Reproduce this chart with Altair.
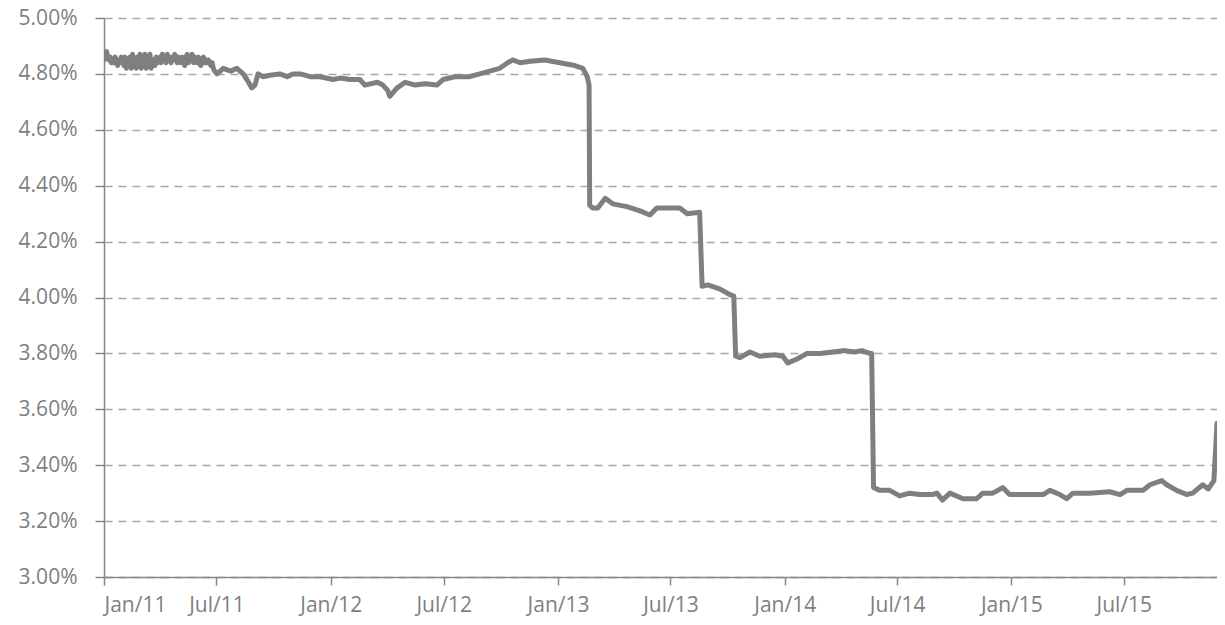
import altair as alt
import pandas as pd

# Jan-Jun 2011: noisy segment, one reading every two days starting 2011-01-01
early_start = "2011-01-01"
early_rates = [
    4.85, 4.87, 4.88, 4.86, 4.85, 4.86, 4.84, 4.85, 4.84, 4.86, 4.84, 4.83, 4.85, 4.84, 4.86, 4.85,
    4.83, 4.86, 4.82, 4.85, 4.84, 4.86, 4.82, 4.87, 4.83, 4.85, 4.82, 4.86, 4.84, 4.87,
    4.82, 4.86, 4.83, 4.87, 4.82, 4.85, 4.84, 4.87, 4.82, 4.84, 4.85, 4.83, 4.86, 4.84, 4.85, 4.86,
    4.84, 4.87, 4.85, 4.86, 4.84, 4.87, 4.85, 4.86, 4.84, 4.86, 4.85, 4.87, 4.85, 4.84, 4.86,
    4.85, 4.84, 4.86, 4.85, 4.83, 4.86, 4.87, 4.84, 4.86, 4.85, 4.87, 4.84, 4.86, 4.85, 4.84,
    4.86, 4.84, 4.83, 4.85, 4.86, 4.84, 4.85, 4.84, 4.85, 4.84, 4.83, 4.84, 4.82, 4.81,
]

dates = [
    "2011-07-02", "2011-07-12", "2011-07-24",
    "2011-08-03", "2011-08-13", "2011-08-19", "2011-08-27", "2011-09-01", "2011-09-06",
    "2011-09-14", "2011-09-25", "2011-10-11", "2011-10-23", "2011-11-01", "2011-11-13",
    "2011-11-29", "2011-12-15", "2012-01-05", "2012-01-16", "2012-02-01", "2012-02-17",
    "2012-02-25", "2012-03-16", "2012-03-25", "2012-04-02", "2012-04-05", "2012-04-17",
    "2012-04-30", "2012-05-16", "2012-06-01", "2012-06-20", "2012-06-30", "2012-07-19",
    "2012-08-12", "2012-08-28", "2012-09-13", "2012-09-29", "2012-10-12", "2012-10-20",
    "2012-11-01", "2012-11-17", "2012-12-11", "2013-01-04", "2013-01-28", "2013-02-10",
    "2013-02-17", "2013-02-20", "2013-02-21", "2013-02-26", "2013-03-06", "2013-03-18",
    "2013-03-30", "2013-04-22", "2013-05-13", "2013-05-29", "2013-06-09", "2013-06-27",
    "2013-07-16", "2013-07-28", "2013-08-17", "2013-08-21", "2013-08-30", "2013-09-19",
    "2013-10-05", "2013-10-11", "2013-10-14", "2013-10-21", "2013-11-06", "2013-11-22",
    "2013-12-16", "2013-12-29", "2014-01-06", "2014-01-21", "2014-02-06", "2014-02-27",
    "2014-03-20", "2014-04-08", "2014-04-24", "2014-05-05", "2014-05-18", "2014-05-21",
    "2014-05-24", "2014-06-03", "2014-06-19", "2014-07-05", "2014-07-21", "2014-08-06",
    "2014-08-27", "2014-09-03", "2014-09-12", "2014-09-24", "2014-10-15", "2014-11-06",
    "2014-11-16", "2014-12-02", "2014-12-18", "2014-12-29", "2015-01-23", "2015-02-21",
    "2015-03-04", "2015-03-20", "2015-03-31", "2015-04-10", "2015-05-07", "2015-06-08",
    "2015-06-25", "2015-07-06", "2015-08-01", "2015-08-12", "2015-08-31", "2015-09-08",
    "2015-09-24", "2015-10-10", "2015-10-20", "2015-11-05", "2015-11-14", "2015-11-23",
    "2015-11-26", "2015-11-28",
]

rates = [
    4.80, 4.82, 4.81,
    4.82, 4.80, 4.78, 4.75, 4.76, 4.80,
    4.79, 4.795, 4.80, 4.79, 4.80, 4.80,
    4.79, 4.79, 4.78, 4.785, 4.78, 4.78,
    4.76, 4.77, 4.76, 4.74, 4.72, 4.75,
    4.77, 4.76, 4.765, 4.76, 4.78, 4.79,
    4.79, 4.80, 4.81, 4.82, 4.84, 4.85,
    4.84, 4.845, 4.85, 4.84, 4.83, 4.82,
    4.79, 4.76, 4.33, 4.32, 4.32, 4.355,
    4.335, 4.325, 4.31, 4.295, 4.32, 4.32,
    4.32, 4.30, 4.305, 4.04, 4.045, 4.03,
    4.01, 4.005, 3.79, 3.785, 3.805, 3.79,
    3.795, 3.79, 3.766, 3.78, 3.80, 3.80,
    3.805, 3.81, 3.805, 3.81, 3.80, 3.80,
    3.32, 3.31, 3.31, 3.29, 3.30, 3.295,
    3.295, 3.30, 3.275, 3.30, 3.28, 3.28,
    3.30, 3.30, 3.32, 3.295, 3.295, 3.295,
    3.31, 3.295, 3.28, 3.30, 3.30, 3.305,
    3.295, 3.31, 3.31, 3.33, 3.345, 3.33,
    3.31, 3.295, 3.30, 3.33, 3.315, 3.345,
    3.465, 3.55,
]

y_ticks = [3.0, 3.2, 3.4, 3.6, 3.8, 4.0, 4.2, 4.4, 4.6, 4.8, 5.0]
x_ticks = ["2011-01-01", "2011-07-01", "2012-01-01", "2012-07-01", "2013-01-01",
           "2013-07-01", "2014-01-01", "2014-07-01", "2015-01-01", "2015-07-01"]
x_start = "2011-01-01"
x_end = "2015-11-28"

early_dates = pd.date_range(early_start, periods=len(early_rates), freq="2D").strftime("%Y-%m-%d").tolist()
df = pd.DataFrame({"date": early_dates + dates, "rate": early_rates + rates})

grey_text = "#7f7f7f"
font = "Open Sans"

line = alt.Chart(df).mark_line(
    color="#7f7f7f", strokeWidth=5, strokeJoin="round", strokeCap="round", clip=True
).encode(
    x=alt.X(
        "date:T",
        scale=alt.Scale(domain=[x_start, x_end]),
        axis=alt.Axis(
            values=[alt.DateTime(year=int(t[:4]), month=int(t[5:7]), date=1) for t in x_ticks],
            format="%b/%y",
            title=None,
            grid=False,
            domainColor="#868686",
            domainWidth=1.5,
            tickColor="#868686",
            tickWidth=1.5,
            tickSize=8,
            labelPadding=9,
            labelFont=font,
            labelFontSize=21,
            labelColor=grey_text,
        ),
    ),
    y=alt.Y(
        "rate:Q",
        scale=alt.Scale(domain=[3.0, 5.0], nice=False, zero=False),
        axis=alt.Axis(
            values=y_ticks,
            labelExpr="format(datum.value / 100, '.2%')",
            title=None,
            grid=True,
            gridColor="#a6a6a6",
            gridWidth=1.3,
            gridDash=[8, 6],
            domainColor="#868686",
            domainWidth=1.5,
            tickColor="#868686",
            tickWidth=1.5,
            tickSize=9,
            labelPadding=18,
            labelFont=font,
            labelFontSize=21,
            labelColor=grey_text,
        ),
    ),
)

chart = line.properties(
    width=1113,
    height=559,
    padding={"left": 96, "top": 10, "right": 0, "bottom": 40},
    autosize=alt.AutoSizeParams(type="none"),
).configure_view(stroke=None)

chart.save("out.html", embed_options={"renderer": "svg", "actions": False})
